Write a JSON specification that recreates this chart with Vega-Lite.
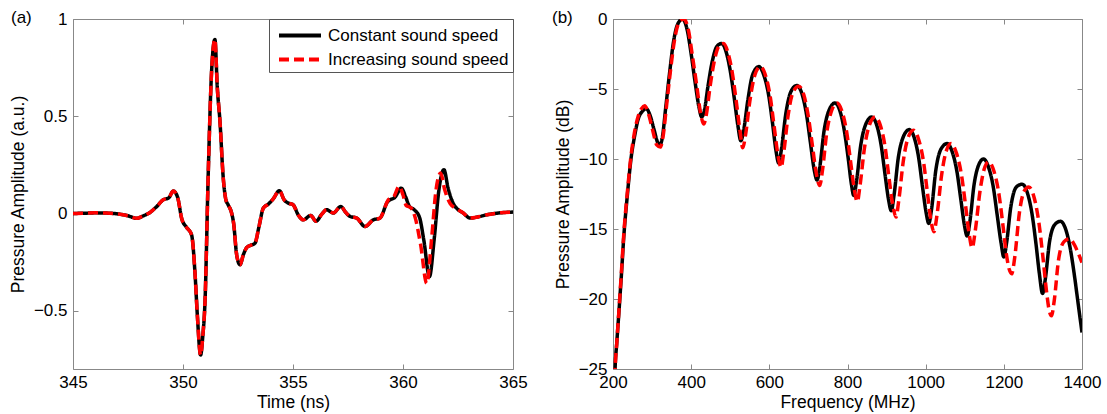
{
  "$schema": "https://vega.github.io/schema/vega-lite/v6.json",
  "padding": {"left": 8, "top": 8, "right": 0, "bottom": 0},
  "config": {
    "font": "Liberation Sans",
    "view": {"stroke": "#888888", "strokeWidth": 1},
    "axis": {"domain": false, "grid": false, "ticks": true, "tickSize": -5, "tickColor": "#888888", "tickWidth": 1,
             "labelFontSize": 17, "labelColor": "#000000", "labelPadding": 11, "labelFlush": false, "labelOverlap": false,
             "titleFontSize": 17.5, "titleFontWeight": "normal", "titleColor": "#000000", "titlePadding": 7},
    "axisX": {"labelPadding": 10, "titlePadding": 3},
    "axisY": {"titlePadding": 6},
    "title": {"fontSize": 17, "fontWeight": "normal", "anchor": "start", "frame": "group", "offset": 0, "baseline": "middle", "color": "#000000"},
    "legend": {"padding": 4, "strokeColor": "#555555", "fillColor": "#ffffff", "labelFontSize": 17, "symbolType": "M-2,0L2,0",
               "symbolSize": 441, "symbolStrokeWidth": 4, "rowPadding": 3, "symbolOffset": 14.5, "labelOffset": 15.5, "labelLimit": 400, "cornerRadius": 0}
  },
  "resolve": {"scale": {"color": "independent", "strokeDash": "independent"}, "legend": {"color": "independent", "strokeDash": "independent"}},
  "datasets": {
    "a": [
      {"t": 345.0, "p": 0.000, "s": "Constant sound speed"},
      {"t": 345.5, "p": 0.001, "s": "Constant sound speed"},
      {"t": 346.0, "p": 0.003, "s": "Constant sound speed"},
      {"t": 346.5, "p": 0.002, "s": "Constant sound speed"},
      {"t": 347.0, "p": -0.002, "s": "Constant sound speed"},
      {"t": 347.5, "p": -0.012, "s": "Constant sound speed"},
      {"t": 347.9, "p": -0.025, "s": "Constant sound speed"},
      {"t": 348.2, "p": -0.012, "s": "Constant sound speed"},
      {"t": 348.5, "p": 0.005, "s": "Constant sound speed"},
      {"t": 348.8, "p": 0.035, "s": "Constant sound speed"},
      {"t": 349.1, "p": 0.070, "s": "Constant sound speed"},
      {"t": 349.35, "p": 0.080, "s": "Constant sound speed"},
      {"t": 349.56, "p": 0.115, "s": "Constant sound speed"},
      {"t": 349.75, "p": 0.085, "s": "Constant sound speed"},
      {"t": 349.95, "p": -0.030, "s": "Constant sound speed"},
      {"t": 350.15, "p": -0.070, "s": "Constant sound speed"},
      {"t": 350.39, "p": -0.110, "s": "Constant sound speed"},
      {"t": 350.55, "p": -0.316, "s": "Constant sound speed"},
      {"t": 350.65, "p": -0.520, "s": "Constant sound speed"},
      {"t": 350.8, "p": -0.728, "s": "Constant sound speed"},
      {"t": 350.9, "p": -0.630, "s": "Constant sound speed"},
      {"t": 351.0, "p": -0.454, "s": "Constant sound speed"},
      {"t": 351.15, "p": 0.216, "s": "Constant sound speed"},
      {"t": 351.3, "p": 0.732, "s": "Constant sound speed"},
      {"t": 351.45, "p": 0.895, "s": "Constant sound speed"},
      {"t": 351.56, "p": 0.646, "s": "Constant sound speed"},
      {"t": 351.68, "p": 0.474, "s": "Constant sound speed"},
      {"t": 351.83, "p": 0.182, "s": "Constant sound speed"},
      {"t": 351.95, "p": 0.070, "s": "Constant sound speed"},
      {"t": 352.05, "p": 0.045, "s": "Constant sound speed"},
      {"t": 352.21, "p": 0.002, "s": "Constant sound speed"},
      {"t": 352.3, "p": -0.050, "s": "Constant sound speed"},
      {"t": 352.44, "p": -0.213, "s": "Constant sound speed"},
      {"t": 352.59, "p": -0.264, "s": "Constant sound speed"},
      {"t": 352.75, "p": -0.210, "s": "Constant sound speed"},
      {"t": 352.9, "p": -0.175, "s": "Constant sound speed"},
      {"t": 353.05, "p": -0.165, "s": "Constant sound speed"},
      {"t": 353.27, "p": -0.153, "s": "Constant sound speed"},
      {"t": 353.45, "p": -0.070, "s": "Constant sound speed"},
      {"t": 353.65, "p": 0.027, "s": "Constant sound speed"},
      {"t": 353.88, "p": 0.048, "s": "Constant sound speed"},
      {"t": 354.1, "p": 0.075, "s": "Constant sound speed"},
      {"t": 354.38, "p": 0.117, "s": "Constant sound speed"},
      {"t": 354.6, "p": 0.070, "s": "Constant sound speed"},
      {"t": 354.79, "p": 0.053, "s": "Constant sound speed"},
      {"t": 355.0, "p": 0.045, "s": "Constant sound speed"},
      {"t": 355.25, "p": -0.010, "s": "Constant sound speed"},
      {"t": 355.47, "p": -0.033, "s": "Constant sound speed"},
      {"t": 355.8, "p": -0.010, "s": "Constant sound speed"},
      {"t": 356.05, "p": -0.040, "s": "Constant sound speed"},
      {"t": 356.3, "p": -0.005, "s": "Constant sound speed"},
      {"t": 356.53, "p": 0.019, "s": "Constant sound speed"},
      {"t": 356.83, "p": 0.002, "s": "Constant sound speed"},
      {"t": 357.17, "p": 0.036, "s": "Constant sound speed"},
      {"t": 357.4, "p": 0.005, "s": "Constant sound speed"},
      {"t": 357.59, "p": -0.015, "s": "Constant sound speed"},
      {"t": 357.9, "p": -0.024, "s": "Constant sound speed"},
      {"t": 358.27, "p": -0.067, "s": "Constant sound speed"},
      {"t": 358.65, "p": -0.033, "s": "Constant sound speed"},
      {"t": 358.95, "p": -0.024, "s": "Constant sound speed"},
      {"t": 359.3, "p": 0.060, "s": "Constant sound speed"},
      {"t": 359.65, "p": 0.085, "s": "Constant sound speed"},
      {"t": 359.92, "p": 0.130, "s": "Constant sound speed"},
      {"t": 360.12, "p": 0.085, "s": "Constant sound speed"},
      {"t": 360.3, "p": 0.035, "s": "Constant sound speed"},
      {"t": 360.5, "p": 0.020, "s": "Constant sound speed"},
      {"t": 360.75, "p": -0.020, "s": "Constant sound speed"},
      {"t": 360.95, "p": -0.140, "s": "Constant sound speed"},
      {"t": 361.2, "p": -0.325, "s": "Constant sound speed"},
      {"t": 361.42, "p": -0.130, "s": "Constant sound speed"},
      {"t": 361.62, "p": 0.110, "s": "Constant sound speed"},
      {"t": 361.86, "p": 0.225, "s": "Constant sound speed"},
      {"t": 362.05, "p": 0.130, "s": "Constant sound speed"},
      {"t": 362.29, "p": 0.050, "s": "Constant sound speed"},
      {"t": 362.5, "p": 0.020, "s": "Constant sound speed"},
      {"t": 362.74, "p": 0.002, "s": "Constant sound speed"},
      {"t": 363.05, "p": -0.024, "s": "Constant sound speed"},
      {"t": 363.4, "p": -0.018, "s": "Constant sound speed"},
      {"t": 363.8, "p": -0.007, "s": "Constant sound speed"},
      {"t": 364.4, "p": 0.003, "s": "Constant sound speed"},
      {"t": 365.0, "p": 0.007, "s": "Constant sound speed"},

      {"t": 345.0, "p": 0.000, "s": "Increasing sound speed"},
      {"t": 345.5, "p": 0.001, "s": "Increasing sound speed"},
      {"t": 346.0, "p": 0.003, "s": "Increasing sound speed"},
      {"t": 346.5, "p": 0.002, "s": "Increasing sound speed"},
      {"t": 347.0, "p": -0.002, "s": "Increasing sound speed"},
      {"t": 347.5, "p": -0.012, "s": "Increasing sound speed"},
      {"t": 347.9, "p": -0.025, "s": "Increasing sound speed"},
      {"t": 348.2, "p": -0.012, "s": "Increasing sound speed"},
      {"t": 348.5, "p": 0.005, "s": "Increasing sound speed"},
      {"t": 348.8, "p": 0.035, "s": "Increasing sound speed"},
      {"t": 349.1, "p": 0.070, "s": "Increasing sound speed"},
      {"t": 349.35, "p": 0.080, "s": "Increasing sound speed"},
      {"t": 349.56, "p": 0.115, "s": "Increasing sound speed"},
      {"t": 349.75, "p": 0.085, "s": "Increasing sound speed"},
      {"t": 349.95, "p": -0.030, "s": "Increasing sound speed"},
      {"t": 350.15, "p": -0.070, "s": "Increasing sound speed"},
      {"t": 350.39, "p": -0.110, "s": "Increasing sound speed"},
      {"t": 350.55, "p": -0.316, "s": "Increasing sound speed"},
      {"t": 350.65, "p": -0.520, "s": "Increasing sound speed"},
      {"t": 350.8, "p": -0.728, "s": "Increasing sound speed"},
      {"t": 350.9, "p": -0.630, "s": "Increasing sound speed"},
      {"t": 351.0, "p": -0.454, "s": "Increasing sound speed"},
      {"t": 351.15, "p": 0.216, "s": "Increasing sound speed"},
      {"t": 351.3, "p": 0.732, "s": "Increasing sound speed"},
      {"t": 351.45, "p": 0.895, "s": "Increasing sound speed"},
      {"t": 351.56, "p": 0.646, "s": "Increasing sound speed"},
      {"t": 351.68, "p": 0.474, "s": "Increasing sound speed"},
      {"t": 351.83, "p": 0.182, "s": "Increasing sound speed"},
      {"t": 351.95, "p": 0.070, "s": "Increasing sound speed"},
      {"t": 352.05, "p": 0.045, "s": "Increasing sound speed"},
      {"t": 352.21, "p": 0.002, "s": "Increasing sound speed"},
      {"t": 352.3, "p": -0.050, "s": "Increasing sound speed"},
      {"t": 352.44, "p": -0.213, "s": "Increasing sound speed"},
      {"t": 352.59, "p": -0.264, "s": "Increasing sound speed"},
      {"t": 352.75, "p": -0.210, "s": "Increasing sound speed"},
      {"t": 352.9, "p": -0.175, "s": "Increasing sound speed"},
      {"t": 353.05, "p": -0.165, "s": "Increasing sound speed"},
      {"t": 353.27, "p": -0.153, "s": "Increasing sound speed"},
      {"t": 353.45, "p": -0.070, "s": "Increasing sound speed"},
      {"t": 353.65, "p": 0.027, "s": "Increasing sound speed"},
      {"t": 353.88, "p": 0.048, "s": "Increasing sound speed"},
      {"t": 354.1, "p": 0.075, "s": "Increasing sound speed"},
      {"t": 354.38, "p": 0.117, "s": "Increasing sound speed"},
      {"t": 354.6, "p": 0.070, "s": "Increasing sound speed"},
      {"t": 354.79, "p": 0.053, "s": "Increasing sound speed"},
      {"t": 355.0, "p": 0.045, "s": "Increasing sound speed"},
      {"t": 355.25, "p": -0.010, "s": "Increasing sound speed"},
      {"t": 355.47, "p": -0.033, "s": "Increasing sound speed"},
      {"t": 355.8, "p": -0.010, "s": "Increasing sound speed"},
      {"t": 356.05, "p": -0.040, "s": "Increasing sound speed"},
      {"t": 356.3, "p": -0.005, "s": "Increasing sound speed"},
      {"t": 356.53, "p": 0.019, "s": "Increasing sound speed"},
      {"t": 356.83, "p": 0.002, "s": "Increasing sound speed"},
      {"t": 357.17, "p": 0.036, "s": "Increasing sound speed"},
      {"t": 357.4, "p": 0.005, "s": "Increasing sound speed"},
      {"t": 357.59, "p": -0.015, "s": "Increasing sound speed"},
      {"t": 357.9, "p": -0.024, "s": "Increasing sound speed"},
      {"t": 358.27, "p": -0.067, "s": "Increasing sound speed"},
      {"t": 358.65, "p": -0.033, "s": "Increasing sound speed"},
      {"t": 358.95, "p": -0.024, "s": "Increasing sound speed"},
      {"t": 359.33, "p": 0.070, "s": "Increasing sound speed"},
      {"t": 359.6, "p": 0.090, "s": "Increasing sound speed"},
      {"t": 359.82, "p": 0.140, "s": "Increasing sound speed"},
      {"t": 360.0, "p": 0.095, "s": "Increasing sound speed"},
      {"t": 360.15, "p": 0.040, "s": "Increasing sound speed"},
      {"t": 360.35, "p": 0.030, "s": "Increasing sound speed"},
      {"t": 360.55, "p": -0.020, "s": "Increasing sound speed"},
      {"t": 360.8, "p": -0.160, "s": "Increasing sound speed"},
      {"t": 361.08, "p": -0.360, "s": "Increasing sound speed"},
      {"t": 361.3, "p": -0.130, "s": "Increasing sound speed"},
      {"t": 361.5, "p": 0.120, "s": "Increasing sound speed"},
      {"t": 361.71, "p": 0.208, "s": "Increasing sound speed"},
      {"t": 361.9, "p": 0.120, "s": "Increasing sound speed"},
      {"t": 362.15, "p": 0.050, "s": "Increasing sound speed"},
      {"t": 362.5, "p": 0.020, "s": "Increasing sound speed"},
      {"t": 362.74, "p": 0.002, "s": "Increasing sound speed"},
      {"t": 363.05, "p": -0.024, "s": "Increasing sound speed"},
      {"t": 363.4, "p": -0.018, "s": "Increasing sound speed"},
      {"t": 363.8, "p": -0.007, "s": "Increasing sound speed"},
      {"t": 364.4, "p": 0.003, "s": "Increasing sound speed"},
      {"t": 365.0, "p": 0.007, "s": "Increasing sound speed"}
    ],
    "b": [
      {"f": 200, "db": -31, "s": "Constant sound speed"},
      {"f": 205, "db": -25.2, "s": "Constant sound speed"},
      {"f": 210, "db": -23.0, "s": "Constant sound speed"},
      {"f": 215, "db": -21.0, "s": "Constant sound speed"},
      {"f": 221, "db": -18.5, "s": "Constant sound speed"},
      {"f": 228, "db": -15.4, "s": "Constant sound speed"},
      {"f": 237, "db": -12.5, "s": "Constant sound speed"},
      {"f": 246, "db": -10.0, "s": "Constant sound speed"},
      {"f": 255, "db": -8.4, "s": "Constant sound speed"},
      {"f": 265, "db": -7.1, "s": "Constant sound speed"},
      {"f": 275, "db": -6.6, "s": "Constant sound speed"},
      {"f": 285, "db": -6.4, "s": "Constant sound speed"},
      {"f": 295, "db": -6.9, "s": "Constant sound speed"},
      {"f": 305, "db": -7.9, "s": "Constant sound speed"},
      {"f": 314, "db": -8.8, "s": "Constant sound speed"},
      {"f": 320, "db": -9.0, "s": "Constant sound speed"},
      {"f": 326, "db": -8.5, "s": "Constant sound speed"},
      {"f": 335, "db": -6.3, "s": "Constant sound speed"},
      {"f": 345, "db": -3.8, "s": "Constant sound speed"},
      {"f": 355, "db": -1.6, "s": "Constant sound speed"},
      {"f": 365, "db": -0.4, "s": "Constant sound speed"},
      {"f": 378, "db": 0.0, "s": "Constant sound speed"},
      {"f": 390, "db": -0.8, "s": "Constant sound speed"},
      {"f": 400, "db": -2.5, "s": "Constant sound speed"},
      {"f": 410, "db": -4.5, "s": "Constant sound speed"},
      {"f": 420, "db": -6.3, "s": "Constant sound speed"},
      {"f": 427, "db": -7.0, "s": "Constant sound speed"},
      {"f": 434, "db": -6.5, "s": "Constant sound speed"},
      {"f": 443, "db": -4.8, "s": "Constant sound speed"},
      {"f": 455, "db": -2.9, "s": "Constant sound speed"},
      {"f": 466, "db": -1.95, "s": "Constant sound speed"},
      {"f": 478, "db": -1.75, "s": "Constant sound speed"},
      {"f": 490, "db": -2.4, "s": "Constant sound speed"},
      {"f": 500, "db": -3.7, "s": "Constant sound speed"},
      {"f": 510, "db": -5.6, "s": "Constant sound speed"},
      {"f": 520, "db": -7.7, "s": "Constant sound speed"},
      {"f": 527, "db": -8.7, "s": "Constant sound speed"},
      {"f": 534, "db": -8.0, "s": "Constant sound speed"},
      {"f": 545, "db": -5.8, "s": "Constant sound speed"},
      {"f": 557, "db": -4.0, "s": "Constant sound speed"},
      {"f": 573, "db": -3.4, "s": "Constant sound speed"},
      {"f": 587, "db": -4.1, "s": "Constant sound speed"},
      {"f": 598, "db": -5.4, "s": "Constant sound speed"},
      {"f": 608, "db": -7.4, "s": "Constant sound speed"},
      {"f": 617, "db": -9.4, "s": "Constant sound speed"},
      {"f": 624, "db": -10.3, "s": "Constant sound speed"},
      {"f": 631, "db": -9.3, "s": "Constant sound speed"},
      {"f": 642, "db": -6.8, "s": "Constant sound speed"},
      {"f": 655, "db": -5.2, "s": "Constant sound speed"},
      {"f": 670, "db": -4.75, "s": "Constant sound speed"},
      {"f": 683, "db": -5.3, "s": "Constant sound speed"},
      {"f": 695, "db": -6.8, "s": "Constant sound speed"},
      {"f": 705, "db": -8.8, "s": "Constant sound speed"},
      {"f": 715, "db": -10.8, "s": "Constant sound speed"},
      {"f": 722, "db": -11.5, "s": "Constant sound speed"},
      {"f": 729, "db": -10.6, "s": "Constant sound speed"},
      {"f": 740, "db": -8.0, "s": "Constant sound speed"},
      {"f": 753, "db": -6.5, "s": "Constant sound speed"},
      {"f": 768, "db": -6.0, "s": "Constant sound speed"},
      {"f": 781, "db": -6.6, "s": "Constant sound speed"},
      {"f": 792, "db": -8.0, "s": "Constant sound speed"},
      {"f": 802, "db": -10.0, "s": "Constant sound speed"},
      {"f": 810, "db": -11.8, "s": "Constant sound speed"},
      {"f": 816, "db": -12.6, "s": "Constant sound speed"},
      {"f": 823, "db": -11.6, "s": "Constant sound speed"},
      {"f": 834, "db": -9.0, "s": "Constant sound speed"},
      {"f": 847, "db": -7.5, "s": "Constant sound speed"},
      {"f": 862, "db": -7.0, "s": "Constant sound speed"},
      {"f": 875, "db": -7.6, "s": "Constant sound speed"},
      {"f": 886, "db": -9.0, "s": "Constant sound speed"},
      {"f": 896, "db": -11.1, "s": "Constant sound speed"},
      {"f": 905, "db": -12.9, "s": "Constant sound speed"},
      {"f": 912, "db": -13.7, "s": "Constant sound speed"},
      {"f": 919, "db": -12.6, "s": "Constant sound speed"},
      {"f": 930, "db": -9.9, "s": "Constant sound speed"},
      {"f": 943, "db": -8.4, "s": "Constant sound speed"},
      {"f": 958, "db": -7.9, "s": "Constant sound speed"},
      {"f": 971, "db": -8.5, "s": "Constant sound speed"},
      {"f": 982, "db": -9.9, "s": "Constant sound speed"},
      {"f": 992, "db": -12.0, "s": "Constant sound speed"},
      {"f": 1001, "db": -13.8, "s": "Constant sound speed"},
      {"f": 1008, "db": -14.6, "s": "Constant sound speed"},
      {"f": 1015, "db": -13.6, "s": "Constant sound speed"},
      {"f": 1026, "db": -10.8, "s": "Constant sound speed"},
      {"f": 1039, "db": -9.3, "s": "Constant sound speed"},
      {"f": 1055, "db": -8.9, "s": "Constant sound speed"},
      {"f": 1068, "db": -9.5, "s": "Constant sound speed"},
      {"f": 1080, "db": -10.9, "s": "Constant sound speed"},
      {"f": 1090, "db": -12.9, "s": "Constant sound speed"},
      {"f": 1099, "db": -14.7, "s": "Constant sound speed"},
      {"f": 1106, "db": -15.5, "s": "Constant sound speed"},
      {"f": 1113, "db": -14.5, "s": "Constant sound speed"},
      {"f": 1124, "db": -11.8, "s": "Constant sound speed"},
      {"f": 1136, "db": -10.4, "s": "Constant sound speed"},
      {"f": 1148, "db": -10.0, "s": "Constant sound speed"},
      {"f": 1161, "db": -10.6, "s": "Constant sound speed"},
      {"f": 1173, "db": -12.0, "s": "Constant sound speed"},
      {"f": 1183, "db": -14.0, "s": "Constant sound speed"},
      {"f": 1193, "db": -16.0, "s": "Constant sound speed"},
      {"f": 1200, "db": -17.0, "s": "Constant sound speed"},
      {"f": 1207, "db": -16.0, "s": "Constant sound speed"},
      {"f": 1218, "db": -13.4, "s": "Constant sound speed"},
      {"f": 1232, "db": -12.0, "s": "Constant sound speed"},
      {"f": 1247, "db": -11.8, "s": "Constant sound speed"},
      {"f": 1260, "db": -12.4, "s": "Constant sound speed"},
      {"f": 1272, "db": -13.9, "s": "Constant sound speed"},
      {"f": 1282, "db": -16.0, "s": "Constant sound speed"},
      {"f": 1291, "db": -18.2, "s": "Constant sound speed"},
      {"f": 1299, "db": -19.6, "s": "Constant sound speed"},
      {"f": 1306, "db": -18.6, "s": "Constant sound speed"},
      {"f": 1317, "db": -15.9, "s": "Constant sound speed"},
      {"f": 1330, "db": -14.7, "s": "Constant sound speed"},
      {"f": 1345, "db": -14.45, "s": "Constant sound speed"},
      {"f": 1358, "db": -15.0, "s": "Constant sound speed"},
      {"f": 1370, "db": -16.4, "s": "Constant sound speed"},
      {"f": 1380, "db": -18.2, "s": "Constant sound speed"},
      {"f": 1390, "db": -20.3, "s": "Constant sound speed"},
      {"f": 1400, "db": -22.4, "s": "Constant sound speed"},

      {"f": 200, "db": -31, "s": "Increasing sound speed"},
      {"f": 205, "db": -25.3, "s": "Increasing sound speed"},
      {"f": 210, "db": -23.0, "s": "Increasing sound speed"},
      {"f": 215, "db": -20.9, "s": "Increasing sound speed"},
      {"f": 221, "db": -18.3, "s": "Increasing sound speed"},
      {"f": 228, "db": -15.2, "s": "Increasing sound speed"},
      {"f": 237, "db": -12.3, "s": "Increasing sound speed"},
      {"f": 246, "db": -9.8, "s": "Increasing sound speed"},
      {"f": 255, "db": -8.1, "s": "Increasing sound speed"},
      {"f": 265, "db": -6.9, "s": "Increasing sound speed"},
      {"f": 273, "db": -6.4, "s": "Increasing sound speed"},
      {"f": 281, "db": -6.2, "s": "Increasing sound speed"},
      {"f": 291, "db": -6.8, "s": "Increasing sound speed"},
      {"f": 302, "db": -8.0, "s": "Increasing sound speed"},
      {"f": 312, "db": -9.0, "s": "Increasing sound speed"},
      {"f": 321, "db": -9.15, "s": "Increasing sound speed"},
      {"f": 328, "db": -8.4, "s": "Increasing sound speed"},
      {"f": 337, "db": -6.2, "s": "Increasing sound speed"},
      {"f": 347, "db": -3.7, "s": "Increasing sound speed"},
      {"f": 358, "db": -1.4, "s": "Increasing sound speed"},
      {"f": 368, "db": -0.3, "s": "Increasing sound speed"},
      {"f": 381, "db": 0.0, "s": "Increasing sound speed"},
      {"f": 393, "db": -0.8, "s": "Increasing sound speed"},
      {"f": 403, "db": -2.6, "s": "Increasing sound speed"},
      {"f": 414, "db": -4.7, "s": "Increasing sound speed"},
      {"f": 424, "db": -6.7, "s": "Increasing sound speed"},
      {"f": 432, "db": -7.5, "s": "Increasing sound speed"},
      {"f": 439, "db": -6.8, "s": "Increasing sound speed"},
      {"f": 448, "db": -4.9, "s": "Increasing sound speed"},
      {"f": 460, "db": -2.9, "s": "Increasing sound speed"},
      {"f": 471, "db": -1.95, "s": "Increasing sound speed"},
      {"f": 483, "db": -1.75, "s": "Increasing sound speed"},
      {"f": 495, "db": -2.5, "s": "Increasing sound speed"},
      {"f": 505, "db": -3.8, "s": "Increasing sound speed"},
      {"f": 515, "db": -5.8, "s": "Increasing sound speed"},
      {"f": 525, "db": -8.0, "s": "Increasing sound speed"},
      {"f": 532, "db": -9.2, "s": "Increasing sound speed"},
      {"f": 539, "db": -8.3, "s": "Increasing sound speed"},
      {"f": 550, "db": -5.9, "s": "Increasing sound speed"},
      {"f": 563, "db": -4.0, "s": "Increasing sound speed"},
      {"f": 577, "db": -3.4, "s": "Increasing sound speed"},
      {"f": 591, "db": -4.1, "s": "Increasing sound speed"},
      {"f": 602, "db": -5.5, "s": "Increasing sound speed"},
      {"f": 612, "db": -7.6, "s": "Increasing sound speed"},
      {"f": 622, "db": -9.7, "s": "Increasing sound speed"},
      {"f": 630, "db": -10.6, "s": "Increasing sound speed"},
      {"f": 637, "db": -9.5, "s": "Increasing sound speed"},
      {"f": 648, "db": -6.9, "s": "Increasing sound speed"},
      {"f": 661, "db": -5.2, "s": "Increasing sound speed"},
      {"f": 675, "db": -4.8, "s": "Increasing sound speed"},
      {"f": 688, "db": -5.4, "s": "Increasing sound speed"},
      {"f": 700, "db": -7.0, "s": "Increasing sound speed"},
      {"f": 710, "db": -9.0, "s": "Increasing sound speed"},
      {"f": 720, "db": -11.0, "s": "Increasing sound speed"},
      {"f": 729, "db": -11.9, "s": "Increasing sound speed"},
      {"f": 736, "db": -10.8, "s": "Increasing sound speed"},
      {"f": 747, "db": -8.1, "s": "Increasing sound speed"},
      {"f": 760, "db": -6.5, "s": "Increasing sound speed"},
      {"f": 773, "db": -6.0, "s": "Increasing sound speed"},
      {"f": 786, "db": -6.6, "s": "Increasing sound speed"},
      {"f": 798, "db": -8.1, "s": "Increasing sound speed"},
      {"f": 808, "db": -10.2, "s": "Increasing sound speed"},
      {"f": 817, "db": -12.1, "s": "Increasing sound speed"},
      {"f": 825, "db": -13.05, "s": "Increasing sound speed"},
      {"f": 832, "db": -11.9, "s": "Increasing sound speed"},
      {"f": 844, "db": -9.1, "s": "Increasing sound speed"},
      {"f": 857, "db": -7.5, "s": "Increasing sound speed"},
      {"f": 871, "db": -7.0, "s": "Increasing sound speed"},
      {"f": 884, "db": -7.6, "s": "Increasing sound speed"},
      {"f": 896, "db": -9.1, "s": "Increasing sound speed"},
      {"f": 906, "db": -11.3, "s": "Increasing sound speed"},
      {"f": 916, "db": -13.3, "s": "Increasing sound speed"},
      {"f": 924, "db": -14.15, "s": "Increasing sound speed"},
      {"f": 931, "db": -13.0, "s": "Increasing sound speed"},
      {"f": 943, "db": -10.1, "s": "Increasing sound speed"},
      {"f": 956, "db": -8.4, "s": "Increasing sound speed"},
      {"f": 969, "db": -7.95, "s": "Increasing sound speed"},
      {"f": 982, "db": -8.6, "s": "Increasing sound speed"},
      {"f": 994, "db": -10.1, "s": "Increasing sound speed"},
      {"f": 1004, "db": -12.3, "s": "Increasing sound speed"},
      {"f": 1013, "db": -14.3, "s": "Increasing sound speed"},
      {"f": 1021, "db": -15.2, "s": "Increasing sound speed"},
      {"f": 1029, "db": -14.0, "s": "Increasing sound speed"},
      {"f": 1041, "db": -11.1, "s": "Increasing sound speed"},
      {"f": 1053, "db": -9.4, "s": "Increasing sound speed"},
      {"f": 1065, "db": -8.9, "s": "Increasing sound speed"},
      {"f": 1079, "db": -9.6, "s": "Increasing sound speed"},
      {"f": 1092, "db": -11.2, "s": "Increasing sound speed"},
      {"f": 1102, "db": -13.3, "s": "Increasing sound speed"},
      {"f": 1111, "db": -15.3, "s": "Increasing sound speed"},
      {"f": 1119, "db": -16.35, "s": "Increasing sound speed"},
      {"f": 1127, "db": -15.1, "s": "Increasing sound speed"},
      {"f": 1139, "db": -12.3, "s": "Increasing sound speed"},
      {"f": 1150, "db": -10.7, "s": "Increasing sound speed"},
      {"f": 1161, "db": -10.2, "s": "Increasing sound speed"},
      {"f": 1175, "db": -10.9, "s": "Increasing sound speed"},
      {"f": 1188, "db": -12.6, "s": "Increasing sound speed"},
      {"f": 1198, "db": -14.8, "s": "Increasing sound speed"},
      {"f": 1207, "db": -16.9, "s": "Increasing sound speed"},
      {"f": 1214, "db": -17.9, "s": "Increasing sound speed"},
      {"f": 1220, "db": -18.2, "s": "Increasing sound speed"},
      {"f": 1228, "db": -17.0, "s": "Increasing sound speed"},
      {"f": 1240, "db": -13.8, "s": "Increasing sound speed"},
      {"f": 1252, "db": -12.3, "s": "Increasing sound speed"},
      {"f": 1264, "db": -12.0, "s": "Increasing sound speed"},
      {"f": 1278, "db": -12.8, "s": "Increasing sound speed"},
      {"f": 1290, "db": -14.6, "s": "Increasing sound speed"},
      {"f": 1300, "db": -17.0, "s": "Increasing sound speed"},
      {"f": 1309, "db": -19.4, "s": "Increasing sound speed"},
      {"f": 1316, "db": -20.8, "s": "Increasing sound speed"},
      {"f": 1322, "db": -21.2, "s": "Increasing sound speed"},
      {"f": 1329, "db": -20.1, "s": "Increasing sound speed"},
      {"f": 1340, "db": -17.2, "s": "Increasing sound speed"},
      {"f": 1354, "db": -15.9, "s": "Increasing sound speed"},
      {"f": 1368, "db": -15.7, "s": "Increasing sound speed"},
      {"f": 1380, "db": -16.1, "s": "Increasing sound speed"},
      {"f": 1390, "db": -16.7, "s": "Increasing sound speed"},
      {"f": 1400, "db": -17.4, "s": "Increasing sound speed"}
    ]
  },
  "spacing": 23,
  "hconcat": [
    {
      "width": 440,
      "height": 350,
      "title": {"text": "(a)", "dx": -62, "dy": 21},
      "data": {"name": "a"},
      "layer": [
        {
          "mark": {"type": "line", "strokeWidth": 3.5, "interpolate": "monotone", "clip": true},
          "encoding": {
            "x": {"field": "t", "type": "quantitative", "scale": {"domain": [345, 365], "nice": false, "zero": false},
                  "axis": {"values": [345, 350, 355, 360, 365], "format": "d", "title": "Time (ns)"}},
            "y": {"field": "p", "type": "quantitative", "scale": {"domain": [-0.8, 1], "nice": false, "zero": false},
                  "axis": {"values": [-0.5, 0, 0.5, 1], "format": "~g", "title": "Pressure Amplitude (a.u.)"}},
            "color": {"field": "s", "type": "nominal",
                      "scale": {"domain": ["Constant sound speed", "Increasing sound speed"], "range": ["#000000", "#ff0000"]},
                      "legend": {"title": null, "orient": "top-right", "offset": 0}},
            "strokeDash": {"field": "s", "type": "nominal",
                      "scale": {"domain": ["Constant sound speed", "Increasing sound speed"], "range": [[1, 0], [10, 5]]},
                      "legend": {"title": null, "orient": "top-right", "offset": 0}}
          }
        },
        {
          "mark": {"type": "line", "opacity": 0},
          "encoding": {
            "x": {"field": "t", "type": "quantitative", "axis": {"orient": "top", "labels": false, "title": null, "values": [345, 350, 355, 360, 365]}},
            "y": {"field": "p", "type": "quantitative", "axis": {"orient": "right", "labels": false, "title": null, "values": [-0.5, 0, 0.5, 1]}}
          }
        }
      ],
      "resolve": {"axis": {"x": "independent", "y": "independent"}}
    },
    {
      "width": 469,
      "height": 350,
      "title": {"text": "(b)", "dx": -61, "dy": 21},
      "data": {"name": "b"},
      "layer": [
        {
          "mark": {"type": "line", "strokeWidth": 3.5, "interpolate": "monotone", "clip": true},
          "encoding": {
            "x": {"field": "f", "type": "quantitative", "scale": {"domain": [200, 1400], "nice": false, "zero": false},
                  "axis": {"values": [200, 400, 600, 800, 1000, 1200, 1400], "format": "d", "title": "Frequency (MHz)"}},
            "y": {"field": "db", "type": "quantitative", "scale": {"domain": [-25, 0], "nice": false, "zero": false},
                  "axis": {"values": [-25, -20, -15, -10, -5, 0], "format": "d", "title": "Pressure Amplitude (dB)"}},
            "color": {"field": "s", "type": "nominal",
                      "scale": {"domain": ["Constant sound speed", "Increasing sound speed"], "range": ["#000000", "#ff0000"]},
                      "legend": null},
            "strokeDash": {"field": "s", "type": "nominal",
                      "scale": {"domain": ["Constant sound speed", "Increasing sound speed"], "range": [[1, 0], [10, 5]]},
                      "legend": null}
          }
        },
        {
          "mark": {"type": "line", "opacity": 0},
          "encoding": {
            "x": {"field": "f", "type": "quantitative", "axis": {"orient": "top", "labels": false, "title": null, "values": [200, 400, 600, 800, 1000, 1200, 1400]}},
            "y": {"field": "db", "type": "quantitative", "axis": {"orient": "right", "labels": false, "title": null, "values": [-25, -20, -15, -10, -5, 0]}}
          }
        }
      ],
      "resolve": {"axis": {"x": "independent", "y": "independent"}}
    }
  ]
}
